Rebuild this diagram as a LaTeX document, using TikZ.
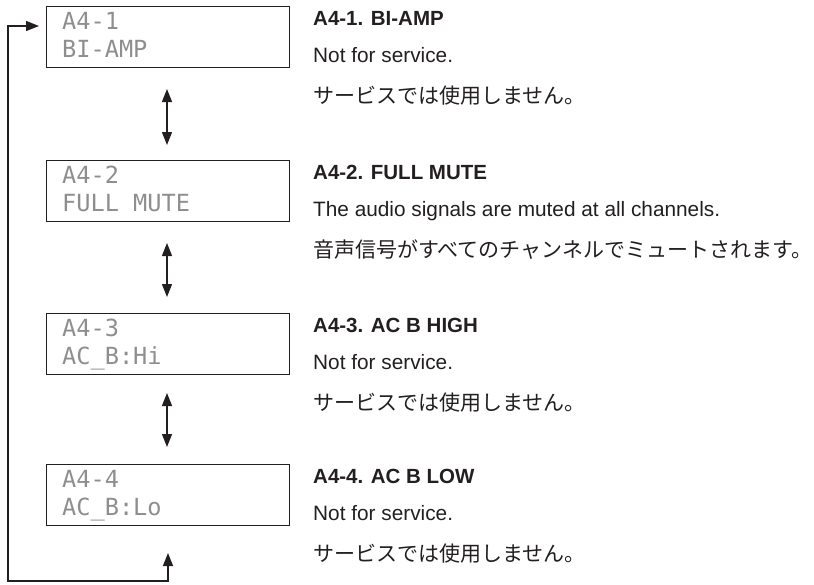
\documentclass[tikz,border=0pt]{standalone}
\usepackage{fontspec}
\setmainfont{Liberation Sans}
\newfontfamily\jpfont{Noto Sans CJK JP}
\newfontfamily\lcdfont{DejaVu Sans Mono}
\usetikzlibrary{arrows.meta}
\definecolor{ink}{HTML}{231F20}
\definecolor{lcd}{HTML}{8E8E8E}
\tikzset{
  lcdbox/.style={draw=ink, line width=1.2pt, minimum width=243pt, minimum height=61pt, anchor=north west, inner sep=0pt},
  lcdtext/.style={anchor=base west, inner sep=0pt, text=lcd, font=\fontsize{23.6}{26}\lcdfont},
  head/.style={anchor=base west, inner sep=0pt, text=ink, font=\fontsize{20.5}{22}\selectfont\bfseries},
  body/.style={anchor=base west, inner sep=0pt, text=ink, font=\fontsize{20.8}{22}\selectfont},
  jbody/.style={anchor=base west, inner sep=0pt, text=ink, font=\fontsize{21}{22}\jpfont},
  conn/.style={draw=ink, line width=1.3pt},
  dtip/.style={{Triangle[length=13pt,width=10pt]}-{Triangle[length=13pt,width=10pt]}}
}
\begin{document}
\begin{tikzpicture}[x=1pt,y=-1pt]
\useasboundingbox (0,0) rectangle (814,584);
% LCD boxes
\node[lcdbox] (b1) at (46,6) {};
\node[lcdbox] (b2) at (46,160) {};
\node[lcdbox] (b3) at (46,313) {};
\node[lcdbox] (b4) at (46,464) {};
% LCD texts
\node[lcdtext] (l1a) at (62,29) {A4-1};
\node[lcdtext] (l1b) at (62,57) {BI-AMP};
\node[lcdtext] (l2a) at (62,183) {A4-2};
\node[lcdtext] (l2b) at (62,211) {FULL MUTE};
\node[lcdtext] (l3a) at (62,336) {A4-3};
\node[lcdtext] (l3b) at (62,364) {AC\_B:Hi};
\node[lcdtext] (l4a) at (62,487) {A4-4};
\node[lcdtext] (l4b) at (62,515) {AC\_B:Lo};
% descriptions
\node[head] (h1) at (313,25) {A4-1. BI-AMP};
\node[body] (t1) at (313,62) {Not for service.};
\node[jbody] (j1) at (313,103) {サービスでは使用しません。};
\node[head] (h2) at (313,179) {A4-2. FULL MUTE};
\node[body] (t2) at (313,216) {The audio signals are muted at all channels.};
\node[jbody] (j2) at (313,257) {音声信号がすべてのチャンネルでミュートされます。};
\node[head] (h3) at (313,332) {A4-3. AC B HIGH};
\node[body] (t3) at (313,369) {Not for service.};
\node[jbody] (j3) at (313,410) {サービスでは使用しません。};
\node[head] (h4) at (313,483) {A4-4. AC B LOW};
\node[body] (t4) at (313,520) {Not for service.};
\node[jbody] (j4) at (313,561) {サービスでは使用しません。};
% double arrows
\coordinate (a1s) at (167,89);  \coordinate (a1e) at (167,145);
\coordinate (a2s) at (167,243); \coordinate (a2e) at (167,297);
\coordinate (a3s) at (167,393); \coordinate (a3e) at (167,447);
\draw[conn,dtip] (a1s) -- (a1e);
\draw[conn,dtip] (a2s) -- (a2e);
\draw[conn,dtip] (a3s) -- (a3e);
% loop back
\coordinate (lb) at (168,553);
\coordinate (c1) at (168,581);
\coordinate (c2) at (8,581);
\coordinate (c3) at (8,26);
\coordinate (lt) at (39,26);
\draw[conn,dtip] (lb) -- (c1) -- (c2) -- (c3) -- (lt);
\end{tikzpicture}
\end{document}
